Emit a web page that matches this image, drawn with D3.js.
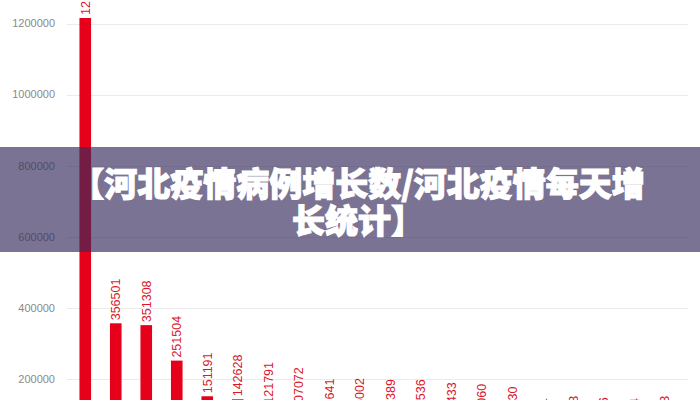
<!DOCTYPE html>
<html lang="zh">
<head>
<meta charset="utf-8">
<title>河北疫情病例增长数</title>
<script src="https://d3js.org/d3.v7.min.js"></script>
<style>
  html, body { margin: 0; padding: 0; background: #fff; overflow: hidden; }
  svg { display: block; }
  .tick-label { font-family: "Liberation Sans", Arial, sans-serif; font-size: 11px; fill: #8a8a8a; }
  .val { font-family: "Liberation Sans", Arial, sans-serif; font-size: 12.5px; fill: #d9182a; }
  .title { font-family: "Noto Sans CJK SC", sans-serif; font-weight: 900; font-size: 33px;
           fill: #fff; stroke: #fff; stroke-width: 1.1px; paint-order: stroke; }
</style>
</head>
<body>
<svg></svg>
<script>
// categories (axis labels fall below the visible area)
const categories = ["1","2","3","4","5","6","7","8","9","10","11","12","13","14","15","16","17","18","19","20"];
const values = [1215500, 356501, 351308, 251504, 151191, 142628, 121791, 107072, 94641, 96002,
                93389, 92536, 84433, 80060, 72430, 40001, 46003, 42006, 40004, 46003];
const yTicks = [200000, 400000, 600000, 800000, 1000000, 1200000];
const titleLines = ["【河北疫情病例增长数/河北疫情每天增", "长统计】"];

const W = 700, H = 480;
const svg = d3.select("svg").attr("width", W).attr("height", H);

const x = d3.scaleBand()
  .domain(categories)
  .range([70, 680])
  .paddingInner(0.62)
  .paddingOuter(0.31);

const y = d3.scaleLinear()
  .domain([0, 1200000])
  .range([450, 23.5]);

// gridlines
svg.append("g")
  .selectAll("line")
  .data(yTicks)
  .join("line")
  .attr("x1", 67).attr("x2", 688)
  .attr("y1", d => Math.round(y(d)) + 0.5)
  .attr("y2", d => Math.round(y(d)) + 0.5)
  .attr("stroke", "#ebebeb");

// y labels
svg.append("g")
  .selectAll("text")
  .data(yTicks)
  .join("text")
  .attr("class", "tick-label")
  .attr("x", 55)
  .attr("y", d => y(d))
  .attr("dy", "0.35em")
  .attr("text-anchor", "end")
  .text(d => d);

// bars
svg.append("g")
  .selectAll("rect")
  .data(values)
  .join("rect")
  .attr("x", (d, i) => x(categories[i]))
  .attr("width", x.bandwidth())
  .attr("y", d => y(d))
  .attr("height", d => y(0) - y(d))
  .attr("fill", "#e60019");

// value labels, rotated
svg.append("g")
  .selectAll("text")
  .data(values)
  .join("text")
  .attr("class", "val")
  .attr("transform", (d, i) => "translate(" + (x(categories[i]) + x.bandwidth() / 2) + "," + (y(d) - 3) + ") rotate(-90)")
  .attr("dy", "0.35em")
  .text(d => d);

// x category labels (out of view)
svg.append("g")
  .selectAll("text")
  .data(categories)
  .join("text")
  .attr("class", "tick-label")
  .attr("x", d => x(d) + x.bandwidth() / 2)
  .attr("y", 468)
  .attr("text-anchor", "middle")
  .text(d => d);

// overlay band with title
svg.append("rect")
  .attr("x", 0).attr("y", 147)
  .attr("width", W).attr("height", 105)
  .attr("fill", "rgba(55,43,91,0.66)");

svg.append("g")
  .selectAll("text")
  .data(titleLines)
  .join("text")
  .attr("class", "title")
  .attr("x", 358)
  .attr("y", (d, i) => 196 + i * 37)
  .attr("text-anchor", "middle")
  .text(d => d);
</script>
</body>
</html>
